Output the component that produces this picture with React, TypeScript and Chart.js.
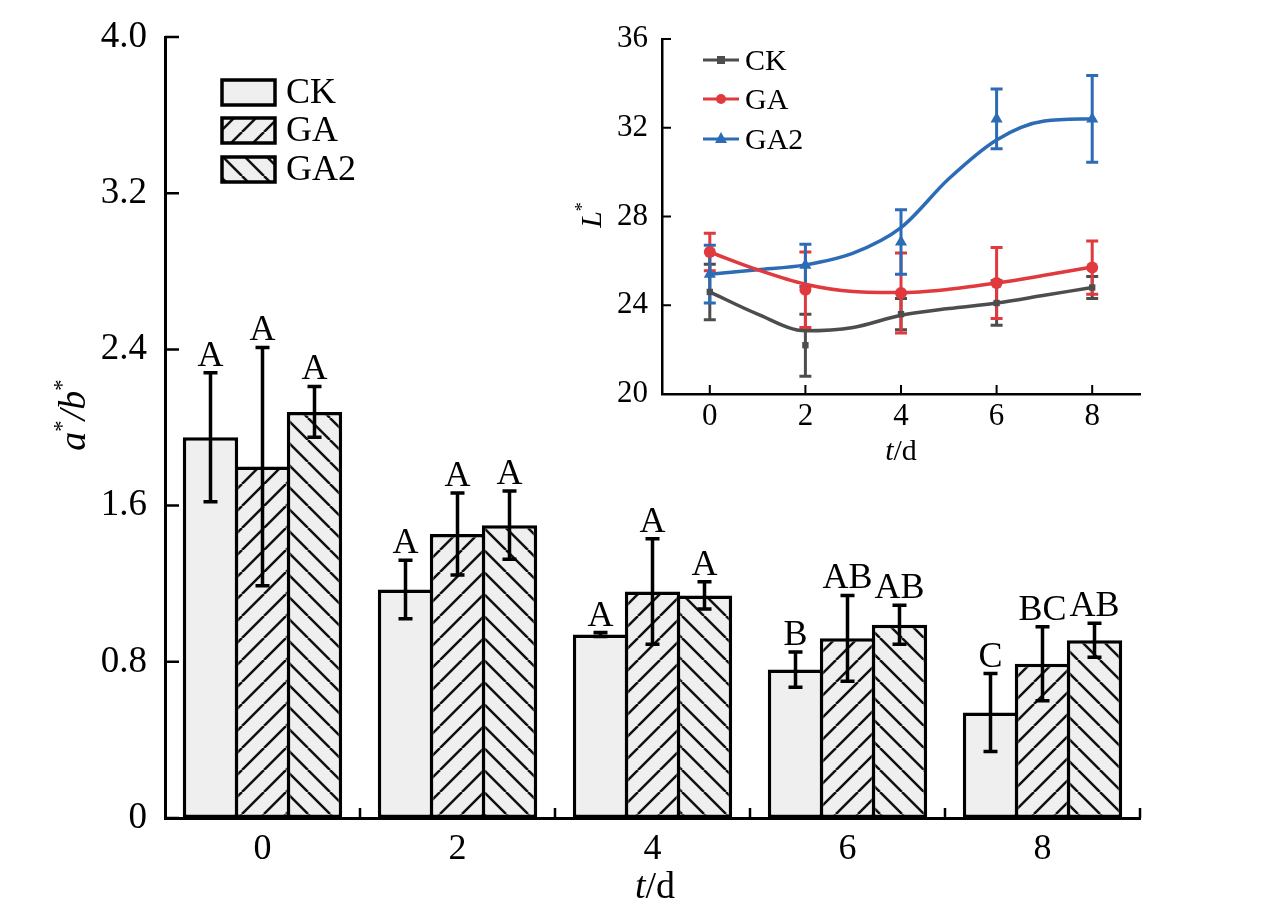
import { useEffect, useRef } from "react";
import { Chart, registerables } from "chart.js";

Chart.register(...registerables);

const FONT = "'Liberation Serif', 'Times New Roman', serif";

// ---- main chart: a*/b* bars ----
const days = ["0", "2", "4", "6", "8"];
const abTicks = [0, 0.8, 1.6, 2.4, 3.2, 4.0];

const abCK = [1.95, 1.17, 0.94, 0.76, 0.54];
const abCKErr = [0.33, 0.15, 0.01, 0.09, 0.2];
const abCKLetters = ["A", "A", "A", "B", "C"];

const abGA = [1.8, 1.455, 1.16, 0.92, 0.79];
const abGAErr = [0.61, 0.21, 0.27, 0.22, 0.19];
const abGALetters = ["A", "A", "A", "AB", "BC"];

const abGA2 = [2.08, 1.5, 1.14, 0.99, 0.91];
const abGA2Err = [0.13, 0.175, 0.07, 0.1, 0.087];
const abGA2Letters = ["A", "A", "A", "AB", "AB"];

// ---- inset: L* lines ----
const lDays = [0, 2, 4, 6, 8];
const lTicksY = [20, 24, 28, 32, 36];

const lCK = [24.6, 22.2, 23.6, 24.1, 24.8];
const lCKErr = [1.25, 1.4, 0.7, 1.0, 0.5];
const lGA = [26.4, 24.7, 24.55, 25.0, 25.7];
const lGAErr = [0.85, 1.7, 1.8, 1.6, 1.2];
const lGA2 = [25.4, 25.8, 26.85, 32.4, 32.4];
const lGA2Err = [1.3, 0.95, 1.45, 1.35, 1.95];

// smoothed curves at each day
const fitDays = [0, 1, 2, 3, 4, 5, 6, 7, 8];
const fitCK = [24.6, 23.6, 22.85, 23.0, 23.55, 23.85, 24.1, 24.45, 24.8];
const fitGA = [26.4, 25.6, 24.95, 24.62, 24.57, 24.72, 25.0, 25.35, 25.72];
const fitGA2 = [25.4, 25.6, 25.82, 26.35, 27.5, 29.7, 31.45, 32.3, 32.4];

const C_CK = "#4d4d4d";
const C_GA = "#e0393e";
const C_GA2 = "#2c6bb5";

const INSET_X = 560;
const INSET_Y = 0;

function hatch(dir: number) {
  const s = 22;
  const c = document.createElement("canvas");
  c.width = s;
  c.height = s;
  const ctx = c.getContext("2d")!;
  ctx.fillStyle = "#efefef";
  ctx.fillRect(0, 0, s, s);
  if (dir !== 0) {
    ctx.strokeStyle = "#111";
    ctx.lineWidth = 2.5;
    ctx.beginPath();
    for (let k = -1; k <= 1; k++) {
      if (dir > 0) {
        ctx.moveTo(k * s, s);
        ctx.lineTo(k * s + s, 0);
      } else {
        ctx.moveTo(k * s, 0);
        ctx.lineTo(k * s + s, s);
      }
    }
    ctx.stroke();
  }
  return ctx.createPattern(c, "repeat")!;
}

type Part = { t: string; it?: boolean; sup?: boolean };

// draws a title made of italic / superscript pieces, centred at cx, cy
function drawParts(ctx: CanvasRenderingContext2D, parts: Part[], cx: number, cy: number, size: number, rotate: boolean) {
  ctx.save();
  ctx.translate(cx, cy);
  if (rotate) ctx.rotate(-Math.PI / 2);
  const fontOf = (p: Part) => `${p.it ? "italic " : ""}${p.sup ? size * 0.6 : size}px ${FONT}`;
  let w = 0;
  parts.forEach((p) => {
    ctx.font = fontOf(p);
    w += ctx.measureText(p.t).width;
  });
  let x = -w / 2;
  ctx.fillStyle = "#000";
  ctx.textAlign = "left";
  ctx.textBaseline = "alphabetic";
  parts.forEach((p) => {
    ctx.font = fontOf(p);
    ctx.fillText(p.t, x, size * 0.33 - (p.sup ? size * 0.42 : 0));
    x += ctx.measureText(p.t).width;
  });
  ctx.restore();
}

const barSeries = [
  { label: "CK", values: abCK, errors: abCKErr, letters: abCKLetters },
  { label: "GA", values: abGA, errors: abGAErr, letters: abGALetters },
  { label: "GA2", values: abGA2, errors: abGA2Err, letters: abGA2Letters },
];

const lineSeries = [
  { label: "CK", values: lCK, errors: lCKErr, fit: fitCK, color: C_CK, marker: "rect", r: 4.5 },
  { label: "GA", values: lGA, errors: lGAErr, fit: fitGA, color: C_GA, marker: "circle", r: 6 },
  { label: "GA2", values: lGA2, errors: lGA2Err, fit: fitGA2, color: C_GA2, marker: "triangle", r: 7 },
];

const barExtras = {
  id: "barExtras",
  afterDatasetsDraw(chart: any) {
    const ctx: CanvasRenderingContext2D = chart.ctx;
    const y = chart.scales.y;
    const x = chart.scales.x;
    const area = chart.chartArea;
    ctx.save();
    ctx.strokeStyle = "#000";
    ctx.fillStyle = "#000";
    barSeries.forEach((s, di) => {
      const meta = chart.getDatasetMeta(di);
      meta.data.forEach((bar: any, i: number) => {
        const yt = y.getPixelForValue(s.values[i] + s.errors[i]);
        const yb = y.getPixelForValue(s.values[i] - s.errors[i]);
        ctx.lineWidth = 3.5;
        ctx.beginPath();
        ctx.moveTo(bar.x, yt);
        ctx.lineTo(bar.x, yb);
        ctx.moveTo(bar.x - 7, yt);
        ctx.lineTo(bar.x + 7, yt);
        ctx.moveTo(bar.x - 7, yb);
        ctx.lineTo(bar.x + 7, yb);
        ctx.stroke();
        ctx.font = `36px ${FONT}`;
        ctx.textAlign = "center";
        ctx.textBaseline = "alphabetic";
        ctx.fillText(s.letters[i], bar.x, yt - 7);
      });
    });

    // inward ticks
    ctx.lineWidth = 2.5;
    ctx.beginPath();
    abTicks.forEach((v) => {
      const py = y.getPixelForValue(v);
      ctx.moveTo(area.left, py);
      ctx.lineTo(area.left + 14, py);
    });
    const cat = (area.right - area.left) / days.length;
    days.forEach((_, i) => {
      const px = x.getPixelForValue(i) + cat / 2;
      ctx.moveTo(px, area.bottom);
      ctx.lineTo(px, area.bottom - 10);
    });
    ctx.stroke();

    // legend
    const pats = chart.data.datasets.map((d: any) => d.backgroundColor);
    const rows = [80, 118, 157];
    barSeries.forEach((s, i) => {
      ctx.fillStyle = pats[i];
      ctx.fillRect(222, rows[i], 53, 25);
      ctx.lineWidth = 3.5;
      ctx.strokeRect(222, rows[i], 53, 25);
      ctx.fillStyle = "#000";
      ctx.font = `36px ${FONT}`;
      ctx.textAlign = "left";
      ctx.textBaseline = "middle";
      ctx.fillText(s.label, 286, rows[i] + 14);
    });

    drawParts(ctx, [{ t: "a", it: true }, { t: "*", sup: true }, { t: "/", it: true }, { t: "b", it: true }, { t: "*", sup: true }], 72, 415, 38, true);
    drawParts(ctx, [{ t: "t", it: true }, { t: "/d" }], 655, 885, 38, false);
    ctx.restore();
  },
};

const lineExtras = {
  id: "lineExtras",
  beforeDatasetsDraw(chart: any) {
    const ctx: CanvasRenderingContext2D = chart.ctx;
    const y = chart.scales.y;
    const x = chart.scales.x;
    ctx.save();
    ctx.lineWidth = 3;
    lineSeries.forEach((s) => {
      ctx.strokeStyle = s.color;
      s.values.forEach((v, i) => {
        const px = x.getPixelForValue(lDays[i]);
        const yt = y.getPixelForValue(v + s.errors[i]);
        const yb = y.getPixelForValue(v - s.errors[i]);
        ctx.beginPath();
        ctx.moveTo(px, yt);
        ctx.lineTo(px, yb);
        ctx.moveTo(px - 6, yt);
        ctx.lineTo(px + 6, yt);
        ctx.moveTo(px - 6, yb);
        ctx.lineTo(px + 6, yb);
        ctx.stroke();
      });
    });
    ctx.restore();
  },
  afterDatasetsDraw(chart: any) {
    const ctx: CanvasRenderingContext2D = chart.ctx;
    const y = chart.scales.y;
    const x = chart.scales.x;
    const area = chart.chartArea;
    ctx.save();
    ctx.strokeStyle = "#000";
    ctx.lineWidth = 2;
    ctx.beginPath();
    lTicksY.forEach((v) => {
      const py = y.getPixelForValue(v);
      ctx.moveTo(area.left, py);
      ctx.lineTo(area.left + 9, py);
    });
    lDays.forEach((d) => {
      const px = x.getPixelForValue(d);
      ctx.moveTo(px, area.bottom);
      ctx.lineTo(px, area.bottom - 9);
    });
    ctx.stroke();

    // legend
    const rows = [60, 99, 139];
    lineSeries.forEach((s, i) => {
      const ly = rows[i] - INSET_Y;
      const x0 = 703 - INSET_X;
      ctx.strokeStyle = s.color;
      ctx.fillStyle = s.color;
      ctx.lineWidth = 3;
      ctx.beginPath();
      ctx.moveTo(x0, ly);
      ctx.lineTo(x0 + 36, ly);
      ctx.stroke();
      const mx = x0 + 18;
      ctx.beginPath();
      if (s.marker === "rect") ctx.rect(mx - 4, ly - 4, 8, 8);
      else if (s.marker === "circle") ctx.arc(mx, ly, 5, 0, Math.PI * 2);
      else {
        ctx.moveTo(mx, ly - 7);
        ctx.lineTo(mx + 6, ly + 4);
        ctx.lineTo(mx - 6, ly + 4);
        ctx.closePath();
      }
      ctx.fill();
      ctx.fillStyle = "#000";
      ctx.font = `30px ${FONT}`;
      ctx.textAlign = "left";
      ctx.textBaseline = "middle";
      ctx.fillText(s.label, x0 + 42, ly + 2);
    });

    drawParts(ctx, [{ t: "L", it: true }, { t: "*", sup: true }], 591 - INSET_X, 215 - INSET_Y, 30, true);
    drawParts(ctx, [{ t: "t", it: true }, { t: "/d" }], 901 - INSET_X, 450 - INSET_Y, 30, false);
    ctx.restore();
  },
};

function mainConfig(): any {
  const fills = [hatch(0), hatch(1), hatch(-1)];
  return {
    type: "bar",
    data: {
      labels: days,
      datasets: barSeries.map((s, i) => ({
        label: s.label,
        data: s.values,
        backgroundColor: fills[i],
        borderColor: "#000",
        borderWidth: 3.5,
        borderSkipped: false,
        categoryPercentage: 0.8,
        barPercentage: 1.065,
      })),
    },
    options: {
      responsive: false,
      animation: false,
      devicePixelRatio: 1,
      layout: { padding: { top: 37, right: 136, left: 0, bottom: 0 } },
      plugins: { legend: { display: false }, tooltip: { enabled: false } },
      scales: {
        x: {
          grid: { display: false },
          border: { display: true, color: "#000", width: 3 },
          ticks: { color: "#000", font: { family: FONT, size: 36 }, padding: 2 },
          afterFit: (s: any) => {
            s.height = 94;
          },
        },
        y: {
          min: 0,
          max: 4,
          grid: { display: false },
          border: { display: true, color: "#000", width: 3 },
          afterBuildTicks: (s: any) => {
            s.ticks = abTicks.map((v) => ({ value: v }));
          },
          ticks: {
            color: "#000",
            font: { family: FONT, size: 37 },
            padding: 10,
            callback: (v: number) => (v === 0 ? "0" : v.toFixed(1)),
          },
          afterFit: (s: any) => {
            s.width = 165;
          },
        },
      },
    },
    plugins: [barExtras],
  };
}

function insetConfig(): any {
  const fitSets = lineSeries.map((s) => ({
    type: "line",
    label: s.label + " fit",
    data: fitDays.map((d, i) => ({ x: d, y: s.fit[i] })),
    borderColor: s.color,
    borderWidth: 3.5,
    pointRadius: 0,
    cubicInterpolationMode: "monotone",
    fill: false,
  }));
  const pointSets = lineSeries.map((s) => ({
    type: "line",
    label: s.label,
    data: lDays.map((d, i) => ({ x: d, y: s.values[i] })),
    showLine: false,
    pointStyle: s.marker,
    pointRadius: s.r,
    pointBackgroundColor: s.color,
    pointBorderColor: s.color,
    pointBorderWidth: 0,
  }));
  return {
    type: "line",
    data: { datasets: [...fitSets, ...pointSets] },
    options: {
      responsive: false,
      animation: false,
      devicePixelRatio: 1,
      layout: { padding: { top: 39 - INSET_Y, right: 136, left: 0, bottom: 0 } },
      plugins: { legend: { display: false }, tooltip: { enabled: false } },
      scales: {
        x: {
          type: "linear",
          min: -1,
          max: 9,
          grid: { display: false },
          border: { display: true, color: "#000", width: 2.5 },
          afterBuildTicks: (s: any) => {
            s.ticks = lDays.map((v) => ({ value: v }));
          },
          ticks: { color: "#000", font: { family: FONT, size: 31 }, padding: -4 },
          afterFit: (s: any) => {
            s.height = 470 - 394;
          },
        },
        y: {
          min: 20,
          max: 36,
          grid: { display: false },
          border: { display: true, color: "#000", width: 2.5 },
          afterBuildTicks: (s: any) => {
            s.ticks = lTicksY.map((v) => ({ value: v }));
          },
          ticks: { color: "#000", font: { family: FONT, size: 31 }, padding: 6 },
          afterFit: (s: any) => {
            s.width = 662 - INSET_X;
          },
        },
      },
    },
    plugins: [lineExtras],
  };
}

export default function App() {
  const mainRef = useRef<HTMLCanvasElement>(null);
  const insetRef = useRef<HTMLCanvasElement>(null);

  useEffect(() => {
    if (!mainRef.current || !insetRef.current) return;
    const main = new Chart(mainRef.current, mainConfig());
    const inset = new Chart(insetRef.current, insetConfig());
    return () => {
      main.destroy();
      inset.destroy();
    };
  }, []);

  return (
    <div style={{ position: "absolute", left: 0, top: 0, width: 1276, height: 912, background: "#fff" }}>
      <canvas ref={mainRef} width={1276} height={912} style={{ position: "absolute", left: 0, top: 0, width: 1276, height: 912 }} />
      <canvas
        ref={insetRef}
        width={716}
        height={470}
        style={{ position: "absolute", left: INSET_X, top: INSET_Y, width: 716, height: 470 }}
      />
    </div>
  );
}
